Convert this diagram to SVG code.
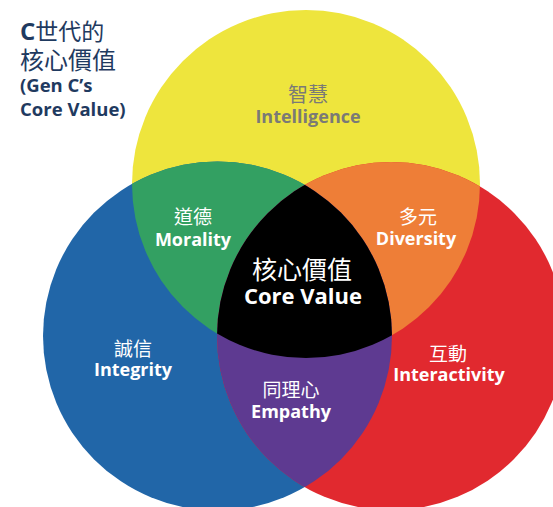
<svg xmlns="http://www.w3.org/2000/svg" width="553" height="507" viewBox="0 0 553 507">
<style>
.cjk{font-family:"Noto Sans CJK TC","Noto Sans CJK SC",sans-serif;font-weight:400;text-anchor:middle}
.lat{font-family:"Open Sans","Liberation Sans",sans-serif;font-weight:700;text-anchor:middle;font-size:18px}
.big{font-size:22px}
.w{fill:#ffffff}
.g{fill:#7a7a76}
.title{fill:#1f3a60}
</style>
<defs>
<clipPath id="cy"><circle cx="306" cy="184" r="174"/></clipPath>
<clipPath id="cb"><circle cx="217.5" cy="336" r="174.5"/></clipPath>
<clipPath id="cr"><circle cx="391" cy="336" r="174"/></clipPath>
</defs>
<rect width="553" height="507" fill="#ffffff"/>
<g id="circles">
<circle id="yellow" cx="306" cy="184" r="174" fill="#eee53d"/>
<circle id="blue" cx="217.5" cy="336" r="174.5" fill="#2166a8"/>
<circle id="red" cx="391" cy="336" r="174" fill="#e1292f"/>
<g id="green" clip-path="url(#cy)"><circle cx="217.5" cy="336" r="174.5" fill="#33a062"/></g>
<g id="orange" clip-path="url(#cy)"><circle cx="391" cy="336" r="174" fill="#ee7e37"/></g>
<g id="purple" clip-path="url(#cb)"><circle cx="391" cy="336" r="174" fill="#5e3a91"/></g>
<g id="black" clip-path="url(#cr)"><g clip-path="url(#cb)"><circle cx="306" cy="184" r="174" fill="#000000"/></g></g>
</g>
<g id="title" class="title">
<text x="20" y="40" font-family="'Noto Sans CJK TC',sans-serif" font-size="23"><tspan font-family="'Open Sans','Liberation Sans',sans-serif" font-weight="700" font-size="24">C</tspan>世代的</text>
<text x="20" y="69" font-family="'Noto Sans CJK TC',sans-serif" font-size="24">核心價值</text>
<text x="20" y="92" font-family="'Open Sans','Liberation Sans',sans-serif" font-weight="700" font-size="18.5">(Gen C’s</text>
<text x="20" y="116" font-family="'Open Sans','Liberation Sans',sans-serif" font-weight="700" font-size="18.5">Core Value)</text>
</g>
<g id="intelligence">
<text class="cjk g" x="308" y="102" font-size="20">智慧</text>
<text class="lat g" x="308" y="123">Intelligence</text>
</g>
<g id="morality">
<text class="cjk w" x="193" y="224" font-size="19">道德</text>
<text class="lat w" x="193" y="246">Morality</text>
</g>
<g id="diversity">
<text class="cjk w" x="418" y="224" font-size="19">多元</text>
<text class="lat w" x="416" y="245">Diversity</text>
</g>
<g id="core">
<text class="cjk w" x="302" y="279" font-size="25">核心價值</text>
<text class="lat w big" x="303" y="304">Core Value</text>
</g>
<g id="integrity">
<text class="cjk w" x="133" y="356" font-size="19">誠信</text>
<text class="lat w" x="133" y="376">Integrity</text>
</g>
<g id="empathy">
<text class="cjk w" x="291" y="397" font-size="19">同理心</text>
<text class="lat w" x="291" y="418">Empathy</text>
</g>
<g id="interactivity">
<text class="cjk w" x="448" y="361" font-size="19">互動</text>
<text class="lat w" x="449" y="381">Interactivity</text>
</g>
</svg>
